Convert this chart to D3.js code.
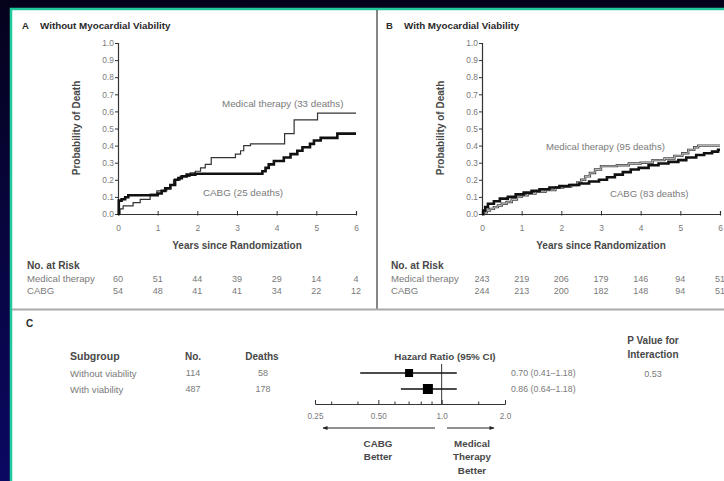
<!DOCTYPE html>
<html>
<head>
<meta charset="utf-8">
<script src="https://cdn.jsdelivr.net/npm/d3@7"></script>
<style>
body { margin: 0; background: #06031f; }
svg { display: block; font-family: "Liberation Sans", Arial, sans-serif; }
</style>
</head>
<body>
<svg id="chart"></svg>
<script>
// adatok
var years = [0, 1, 2, 3, 4, 5, 6];
var yTicks = [0, 0.1, 0.2, 0.3, 0.4, 0.5, 0.6, 0.7, 0.8, 0.9, 1.0];

// A panel: without viability
var aMedTime = [0, 0.05, 0.13, 0.38, 0.56, 0.81, 0.98, 1.23, 1.32, 1.4, 1.57, 1.82, 1.95, 2.08, 2.2, 2.35, 2.96, 3.09, 3.17, 3.34, 4.2, 4.44, 5.03, 6];
var aMedProb = [0, 0.03, 0.047, 0.066, 0.086, 0.116, 0.135, 0.15, 0.17, 0.2, 0.22, 0.24, 0.25, 0.27, 0.29, 0.33, 0.35, 0.37, 0.40, 0.41, 0.47, 0.55, 0.59, 0.59];
var aCabgTime = [0, 0.02, 0.09, 0.18, 0.26, 1.0, 1.1, 1.19, 1.32, 1.44, 1.52, 1.61, 1.73, 1.95, 3.64, 3.72, 3.8, 3.93, 4.18, 4.35, 4.52, 4.65, 4.84, 4.94, 5.11, 5.53, 6];
var aCabgProb = [0, 0.078, 0.086, 0.098, 0.11, 0.12, 0.135, 0.15, 0.17, 0.2, 0.21, 0.22, 0.23, 0.235, 0.25, 0.27, 0.29, 0.31, 0.33, 0.35, 0.37, 0.39, 0.41, 0.43, 0.445, 0.47, 0.47];
var aMedRisk = [60, 51, 44, 39, 29, 14, 4];
var aCabgRisk = [54, 48, 41, 41, 34, 22, 12];

// B panel: with viability
var bMedTime = [0, 0.05, 0.12, 0.2, 0.3, 0.4, 0.5, 0.62, 0.75, 0.88, 1.0, 1.15, 1.35, 1.6, 1.85, 2.05, 2.25, 2.4, 2.5, 2.6, 2.72, 2.85, 3.0, 3.4, 3.7, 4.0, 4.3, 4.6, 4.85, 5.05, 5.2, 5.35, 5.45, 6];
var bMedProb = [0, 0.01, 0.02, 0.03, 0.04, 0.05, 0.06, 0.07, 0.085, 0.1, 0.11, 0.12, 0.13, 0.14, 0.155, 0.16, 0.17, 0.185, 0.2, 0.22, 0.24, 0.26, 0.28, 0.285, 0.295, 0.3, 0.315, 0.325, 0.34, 0.355, 0.375, 0.39, 0.4, 0.4];
var bCabgTime = [0, 0.03, 0.08, 0.15, 0.3, 0.45, 0.65, 0.85, 1.05, 1.25, 1.45, 1.7, 1.95, 2.2, 2.45, 2.7, 2.95, 3.15, 3.35, 3.55, 3.75, 3.95, 4.2, 4.45, 4.7, 4.95, 5.15, 5.4, 5.6, 5.8, 5.95, 6];
var bCabgProb = [0, 0.02, 0.04, 0.06, 0.075, 0.09, 0.1, 0.115, 0.125, 0.135, 0.145, 0.155, 0.163, 0.17, 0.178, 0.19, 0.2, 0.215, 0.23, 0.245, 0.26, 0.27, 0.285, 0.295, 0.305, 0.315, 0.33, 0.345, 0.355, 0.365, 0.375, 0.375];
var bMedRisk = [243, 219, 206, 179, 146, 94, 51];
var bCabgRisk = [244, 213, 200, 182, 148, 94, 51];

// C panel: forest plot
var subgroups = ["Without viability", "With viability"];
var subN = [114, 487];
var subDeaths = [58, 178];
var hr = [0.70, 0.86];
var hrLow = [0.41, 0.64];
var hrHigh = [1.18, 1.18];
var hrText = ["0.70 (0.41\u20131.18)", "0.86 (0.64\u20131.18)"];
var hrTicks = [0.25, 0.5, 1.0, 2.0];
var hrTickLabels = ["0.25", "0.50", "1.0", "2.0"];
var hrMinor = [0.3, 0.4, 0.6, 0.7, 0.8, 0.9, 1.5];
var pInteraction = "0.53";

var W = 724, H = 481;
var svg = d3.select("#chart").attr("width", W).attr("height", H);

// háttér
var defs = svg.append("defs");
var grad = defs.append("linearGradient").attr("id", "bg")
    .attr("x1", 0).attr("y1", 0).attr("x2", 0).attr("y2", 1);
grad.append("stop").attr("offset", "0%").attr("stop-color", "#05021c");
grad.append("stop").attr("offset", "100%").attr("stop-color", "#0a0862");
svg.append("rect").attr("width", W).attr("height", H).attr("fill", "url(#bg)");
svg.append("rect")
    .attr("x", 11).attr("y", 9)
    .attr("width", W).attr("height", H)
    .attr("fill", "#fff")
    .attr("stroke", "#22c99c")
    .attr("stroke-width", 2.5);

// elválasztó vonalak
svg.append("line").attr("x1", 377).attr("x2", 377).attr("y1", 10).attr("y2", 309)
    .attr("stroke", "#444").attr("stroke-width", 1.3);
svg.append("line").attr("x1", 12).attr("x2", W).attr("y1", 309.5).attr("y2", 309.5)
    .attr("stroke", "#aaa").attr("stroke-width", 2);

var grey = "#7a7a7a", dark = "#2a2a2a", head = "#484848";
var fsWord = 10, fsNum = 9;

function pts(t, p) {
    return t.map(function(d, i) { return [d, p[i]]; });
}

function drawPanel(o) {
    var x = d3.scaleLinear().domain([0, 6]).range([o.x0, o.x0 + 238]);
    var y = d3.scaleLinear().domain([0, 1]).range([214, 43]);
    var g = svg.append("g");

    g.append("text").attr("x", o.x0 - 96).attr("y", 28.5)
        .attr("font-size", 9.5).attr("font-weight", "bold").attr("fill", dark)
        .text(o.letter);
    g.append("text").attr("x", o.x0 - 78).attr("y", 28.5)
        .attr("font-size", 9.8).attr("font-weight", "bold").attr("fill", dark)
        .text(o.title);

    // y tengely
    var yAxis = g.append("g").attr("transform", "translate(" + o.x0 + ",0)")
        .call(d3.axisLeft(y).tickValues(yTicks).tickSize(3).tickFormat(d3.format(".1f")));
    yAxis.select(".domain").attr("stroke", "#333").attr("stroke-width", 1.2);
    yAxis.selectAll(".tick line").attr("stroke", "#333");
    yAxis.selectAll("text").attr("font-size", 8.4).attr("fill", grey).attr("x", -4);

    // x tengely
    var xAxis = g.append("g").attr("transform", "translate(0," + 214 + ")")
        .call(d3.axisTop(x).tickValues(years).tickSize(3).tickFormat(d3.format("d")));
    xAxis.select(".domain").attr("stroke", "#333").attr("stroke-width", 1.2);
    xAxis.selectAll(".tick line").attr("stroke", "#333").attr("y2", -3).attr("y1", 1.5);
    xAxis.selectAll("text").attr("font-size", 8.4).attr("fill", grey).attr("y", 16.5);

    g.append("text")
        .attr("transform", "translate(" + (o.x0 - 38) + ",128) rotate(-90)")
        .attr("text-anchor", "middle")
        .attr("font-size", fsWord).attr("font-weight", "bold").attr("fill", head)
        .text("Probability of Death");
    g.append("text").attr("x", x(3)).attr("y", 249)
        .attr("text-anchor", "middle")
        .attr("font-size", fsWord).attr("font-weight", "bold").attr("fill", head)
        .text("Years since Randomization");

    var line = d3.line()
        .x(function(d) { return x(d[0]); })
        .y(function(d) { return y(d[1]); })
        .curve(d3.curveStepAfter);

    if (o.hollow) {
        g.append("path").attr("d", line(pts(o.medT, o.medP)))
            .attr("fill", "none").attr("stroke", "#444").attr("stroke-width", 2.4);
        g.append("path").attr("d", line(pts(o.medT, o.medP)))
            .attr("fill", "none").attr("stroke", "#ddd").attr("stroke-width", 0.8);
    } else {
        g.append("path").attr("d", line(pts(o.medT, o.medP)))
            .attr("fill", "none").attr("stroke", "#333").attr("stroke-width", 1.2);
    }
    g.append("path").attr("d", line(pts(o.cabgT, o.cabgP)))
        .attr("fill", "none").attr("stroke", "#111").attr("stroke-width", 2.6);

    g.append("text").attr("x", o.medLab[0]).attr("y", o.medLab[1])
        .attr("font-size", o.labSize).attr("fill", grey).text(o.medText);
    g.append("text").attr("x", o.cabgLab[0]).attr("y", o.cabgLab[1])
        .attr("font-size", o.labSize).attr("fill", grey).text(o.cabgText);

    // No. at Risk
    g.append("text").attr("x", o.x0 - 91).attr("y", 268.5)
        .attr("font-size", 10.2).attr("font-weight", "bold").attr("fill", head)
        .text("No. at Risk");
    g.append("text").attr("x", o.x0 - 91).attr("y", 281.5)
        .attr("font-size", 9.6).attr("fill", grey).text("Medical therapy");
    g.append("text").attr("x", o.x0 - 91).attr("y", 293.5)
        .attr("font-size", 9.6).attr("fill", grey).text("CABG");
    g.selectAll(".rm").data(o.medRisk).enter().append("text")
        .attr("x", function(d, i) { return x(years[i]); })
        .attr("y", 281.5).attr("text-anchor", "middle")
        .attr("font-size", fsNum).attr("fill", grey)
        .text(function(d) { return d; });
    g.selectAll(".rc").data(o.cabgRisk).enter().append("text")
        .attr("x", function(d, i) { return x(years[i]); })
        .attr("y", 293.5).attr("text-anchor", "middle")
        .attr("font-size", fsNum).attr("fill", grey)
        .text(function(d) { return d; });
}

drawPanel({
    x0: 118, letter: "A", title: "Without Myocardial Viability",
    medT: aMedTime, medP: aMedProb, cabgT: aCabgTime, cabgP: aCabgProb,
    medRisk: aMedRisk, cabgRisk: aCabgRisk, hollow: false, labSize: 9.8,
    medText: "Medical therapy (33 deaths)", medLab: [222, 107],
    cabgText: "CABG (25 deaths)", cabgLab: [203, 195.5]
});
drawPanel({
    x0: 482, letter: "B", title: "With Myocardial Viability",
    medT: bMedTime, medP: bMedProb, cabgT: bCabgTime, cabgP: bCabgProb,
    medRisk: bMedRisk, cabgRisk: bCabgRisk, hollow: true, labSize: 9.6,
    medText: "Medical therapy (95 deaths)", medLab: [546, 149.5],
    cabgText: "CABG (83 deaths)", cabgLab: [610, 197]
});

// C panel
var c = svg.append("g");
c.append("text").attr("x", 26).attr("y", 326.5)
    .attr("font-size", 10).attr("font-weight", "bold").attr("fill", dark).text("C");

var hx = d3.scaleLog().domain([0.25, 2]).range([315, 505]);
var rowY = d3.scalePoint().domain(subgroups).range([373, 389]);

var heads = [["Subgroup", 70, "start", 10.5], ["No.", 193, "middle", 10], ["Deaths", 262, "middle", 10],
    ["Hazard Ratio (95% CI)", 445, "middle", 9.8]];
c.selectAll(".hd").data(heads).enter().append("text")
    .attr("x", function(d) { return d[1]; }).attr("y", 359.5)
    .attr("text-anchor", function(d) { return d[2]; })
    .attr("font-size", function(d) { return d[3]; })
    .attr("font-weight", "bold").attr("fill", head)
    .text(function(d) { return d[0]; });
c.append("text").attr("x", 653).attr("y", 343.5).attr("text-anchor", "middle")
    .attr("font-size", 10).attr("font-weight", "bold").attr("fill", head).text("P Value for");
c.append("text").attr("x", 653).attr("y", 357.5).attr("text-anchor", "middle")
    .attr("font-size", 10).attr("font-weight", "bold").attr("fill", head).text("Interaction");
c.append("text").attr("x", 653).attr("y", 376.5).attr("text-anchor", "middle")
    .attr("font-size", fsNum).attr("fill", grey).text(pInteraction);

subgroups.forEach(function(s, i) {
    var yy = rowY(s);
    c.append("text").attr("x", 70).attr("y", yy + 3.5)
        .attr("font-size", 9.6).attr("fill", grey).text(s);
    c.append("text").attr("x", 193).attr("y", yy + 3.3)
        .attr("font-size", fsNum).attr("text-anchor", "middle").attr("fill", grey).text(subN[i]);
    c.append("text").attr("x", 263).attr("y", yy + 3.3)
        .attr("font-size", fsNum).attr("text-anchor", "middle").attr("fill", grey).text(subDeaths[i]);
    c.append("text").attr("x", 511).attr("y", yy + 3.3)
        .attr("font-size", 8.8).attr("fill", grey).text(hrText[i]);
});

// referencia vonal 1.0-nál
c.append("line").attr("x1", hx(1)).attr("x2", hx(1)).attr("y1", 364).attr("y2", 404)
    .attr("stroke", "#333").attr("stroke-width", 1);

c.selectAll(".ci").data(subgroups).enter().append("line")
    .attr("x1", function(d, i) { return hx(hrLow[i]); })
    .attr("x2", function(d, i) { return hx(hrHigh[i]); })
    .attr("y1", function(d) { return rowY(d); })
    .attr("y2", function(d) { return rowY(d); })
    .attr("stroke", "#111").attr("stroke-width", 1.3);
var sq = [8, 10];
c.selectAll(".sq").data(subgroups).enter().append("rect")
    .attr("x", function(d, i) { return hx(hr[i]) - sq[i] / 2; })
    .attr("y", function(d, i) { return rowY(d) - sq[i] / 2; })
    .attr("width", function(d, i) { return sq[i]; })
    .attr("height", function(d, i) { return sq[i]; })
    .attr("fill", "#000");

// log tengely
var hAxis = c.append("g").attr("transform", "translate(0,404)")
    .call(d3.axisTop(hx).tickValues(hrTicks).tickSize(4)
        .tickFormat(function(d, i) { return hrTickLabels[i]; }));
hAxis.select(".domain").attr("stroke", "#333");
hAxis.selectAll(".tick line").attr("stroke", "#333");
hAxis.selectAll("text").attr("font-size", 8.2).attr("fill", grey).attr("y", 15);
c.selectAll(".mn").data(hrMinor).enter().append("line")
    .attr("x1", function(d) { return hx(d); }).attr("x2", function(d) { return hx(d); })
    .attr("y1", 404).attr("y2", 401.5).attr("stroke", "#333");

// nyilak
defs.append("marker").attr("id", "arr").attr("viewBox", "0 0 10 10")
    .attr("refX", 9).attr("refY", 5).attr("markerWidth", 6).attr("markerHeight", 5)
    .attr("orient", "auto-start-reverse")
    .append("path").attr("d", "M0,1L10,5L0,9Z").attr("fill", "#222");
c.append("line").attr("x1", 435).attr("x2", 323).attr("y1", 428).attr("y2", 428)
    .attr("stroke", "#222").attr("marker-end", "url(#arr)");
c.append("line").attr("x1", 447).attr("x2", 494).attr("y1", 428).attr("y2", 428)
    .attr("stroke", "#222").attr("marker-end", "url(#arr)");

[["CABG", 378, 446.5], ["Better", 378, 460], ["Medical", 472, 446.5], ["Therapy", 472, 460], ["Better", 472, 473.5]]
    .forEach(function(d) {
        c.append("text").attr("x", d[1]).attr("y", d[2]).attr("text-anchor", "middle")
            .attr("font-size", 9.8).attr("font-weight", "bold").attr("fill", head).text(d[0]);
    });
</script>
</body>
</html>
